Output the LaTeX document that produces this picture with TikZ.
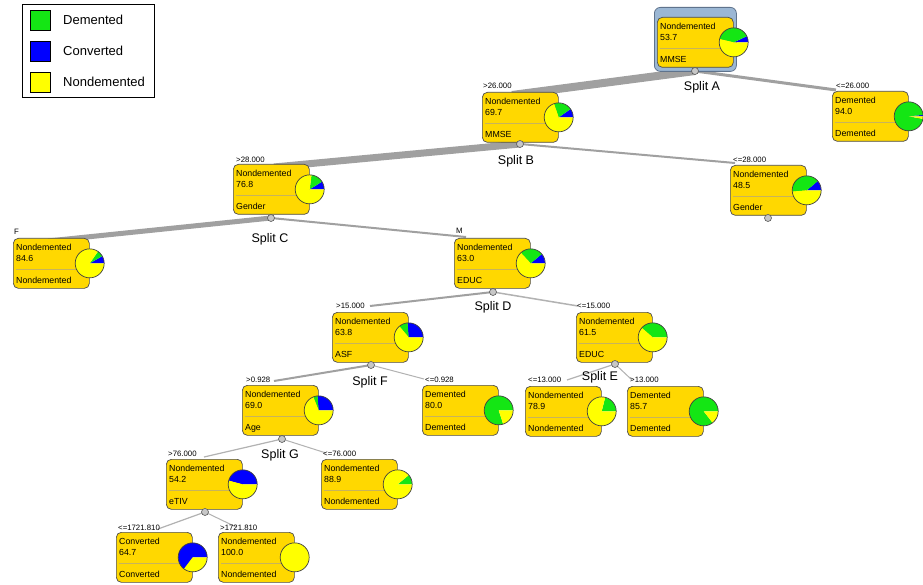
\documentclass[tikz,border=0pt]{standalone}
\usepackage{fontspec}
\setmainfont{Liberation Sans}
\usetikzlibrary{calc,backgrounds}
\definecolor{boxgold}{RGB}{255,216,0}
\definecolor{pgreen}{RGB}{20,230,20}
\definecolor{pblue}{RGB}{0,0,255}
\definecolor{pyellow}{RGB}{255,255,0}
\definecolor{edgegray}{RGB}{160,160,160}
\definecolor{thingray}{RGB}{178,178,178}
\definecolor{sepcol}{RGB}{200,180,90}
\definecolor{rootblue}{RGB}{155,183,212}
\definecolor{rootborder}{RGB}{95,115,140}
\tikzset{
 tbox/.style={draw=black!70, fill=boxgold, rounded corners=5pt, minimum width=76pt, minimum height=50pt, inner sep=0pt, line width=0.7pt},
 btxt/.style={font=\fontsize{8.8}{10}\selectfont, inner sep=0pt, anchor=base west},
 elab/.style={font=\fontsize{7.8}{9}\selectfont, inner sep=0pt, anchor=west},
 slab/.style={font=\fontsize{12.5}{14}\selectfont, inner sep=0pt},
 splitpt/.style={circle, draw=black!65, fill=black!22, minimum size=7pt, inner sep=0pt, line width=0.6pt},
 tedge/.style={draw=edgegray, line width=#1},
 tthin/.style={draw=thingray, line width=#1},
 legsq/.style={draw=black, line width=0.8pt, minimum size=20pt, inner sep=0pt, anchor=north west},
 legtxt/.style={font=\fontsize{13}{15}\selectfont, inner sep=0pt, anchor=west}
}
\newcommand\tbx[7]{%
 \node[tbox, anchor=north west] (#1) at (#2,#3) {};
 \node[btxt] (#1-l1) at ($(#1.north west)+(3,12.5)$) {#4};
 \node[btxt] (#1-l2) at ($(#1.north west)+(3,23.5)$) {#5};
 \draw[sepcol, line width=0.7pt] ($(#1.north west)+(3,31)$) -- ($(#1.north east)+(-12,31)$);
 \node[btxt] (#1-l3) at ($(#1.north west)+(3,45.5)$) {#6};
 \foreach \c/\s/\e in {#7} {\fill[\c] (#1.east) -- ++(\s:14.5pt) arc[start angle=\s, end angle=\e, radius=14.5pt] -- cycle;}
 \draw[black!75, line width=0.7pt] (#1.east) circle[radius=14.5pt];
}
\begin{document}
\begin{tikzpicture}[x=1pt,y=-1pt]
\useasboundingbox (0,0) rectangle (923,585);

% legend
\node[draw=black, line width=0.8pt, minimum width=132pt, minimum height=93pt, inner sep=0pt, anchor=north west] (legend) at (22,4) {};
\node[legsq, fill=pgreen] (lg1) at (30,10) {};
\node[legsq, fill=pblue] (lg2) at (30,41) {};
\node[legsq, fill=pyellow] (lg3) at (30,72) {};
\node[legtxt] (lt1) at (63,20) {Demented};
\node[legtxt] (lt2) at (63,51) {Converted};
\node[legtxt] (lt3) at (63,82) {Nondemented};

% root
\node[draw=rootborder, fill=rootblue, rounded corners=6pt, minimum width=82pt, minimum height=64pt, inner sep=0pt, line width=0.8pt, anchor=north west] (rootouter) at (654,7) {};
\tbx{root}{657}{17}{Nondemented}{53.7}{MMSE}{pblue/0/25, pgreen/25/167, pyellow/167/360}
\tbx{dA}{832}{91}{Demented}{94.0}{Demented}{pblue/0/6, pgreen/6/350, pyellow/350/360}
\tbx{nB}{482}{92}{Nondemented}{69.7}{MMSE}{pblue/0/35, pgreen/35/109, pyellow/109/360}
\tbx{nC}{233}{164}{Nondemented}{76.8}{Gender}{pblue/0/32, pgreen/32/83, pyellow/83/360}
\tbx{nD}{730}{165}{Nondemented}{48.5}{Gender}{pblue/0/40, pgreen/40/185, pyellow/185/360}
\tbx{nF}{13}{238}{Nondemented}{84.6}{Nondemented}{pblue/0/30, pgreen/30/55, pyellow/55/360}
\tbx{nM}{454}{238}{Nondemented}{63.0}{EDUC}{pblue/0/40, pgreen/40/133, pyellow/133/360}
\tbx{nASF}{332}{312}{Nondemented}{63.8}{ASF}{pblue/0/95, pgreen/95/130, pyellow/130/360}
\tbx{nEDUC}{576}{312}{Nondemented}{61.5}{EDUC}{pgreen/0/139, pyellow/139/360}
\tbx{nAge}{242}{385}{Nondemented}{69.0}{Age}{pblue/0/95, pgreen/95/112, pyellow/112/360}
\tbx{dF}{422}{385}{Demented}{80.0}{Demented}{pgreen/0/288, pyellow/288/360}
\tbx{nE1}{525}{386}{Nondemented}{78.9}{Nondemented}{pgreen/0/76, pyellow/76/360}
\tbx{dE2}{627}{386}{Demented}{85.7}{Demented}{pgreen/0/308, pyellow/308/360}
\tbx{nT}{166}{459}{Nondemented}{54.2}{eTIV}{pblue/0/165, pyellow/165/360}
\tbx{nG2}{321}{459}{Nondemented}{88.9}{Nondemented}{pgreen/0/40, pyellow/40/360}
\tbx{cV}{116}{532}{Converted}{64.7}{Converted}{pblue/0/233, pyellow/233/360}
\tbx{nV}{218}{532}{Nondemented}{100.0}{Nondemented}{pyellow/0/360}

% split points
\node[splitpt] (sA) at (695,71) {};
\node[splitpt] (sB) at (520,144) {};
\node[splitpt] (sC) at (271,218) {};
\node[splitpt] (sD2) at (768,218) {};
\node[splitpt] (sD) at (493,292) {};
\node[splitpt] (sF) at (371,365) {};
\node[splitpt] (sE) at (615,364) {};
\node[splitpt] (sG) at (282,439) {};
\node[splitpt] (sT) at (205,512) {};

% connector end points
\coordinate (eB) at (512,95);
\coordinate (eA2) at (836,90);
\coordinate (eC) at (274,167);
\coordinate (eD) at (735,163);
\coordinate (eF) at (48,241);
\coordinate (eM) at (466,237);
\coordinate (eASF) at (370,306);
\coordinate (eEDUC) at (578,306);
\coordinate (eAge) at (274,381);
\coordinate (eDF) at (424,379);
\coordinate (eE1) at (567,380);
\coordinate (eE2) at (632,380);
\coordinate (eT) at (204,457);
\coordinate (eG2) at (326,453);
\coordinate (eCV) at (158,529);
\coordinate (eNV) at (236,527);

\begin{pgfonlayer}{background}
\fill[white] (0,0) rectangle (923,585);
\draw[tedge=8pt] (sA.center) -- (eB);
\draw[tedge=3pt] (sA.center) -- (eA2);
\draw[tedge=7pt] (sB.center) -- (eC);
\draw[tedge=2pt] (sB.center) -- (eD);
\draw[tedge=5pt] (sC.center) -- (eF);
\draw[tedge=2pt] (sC.center) -- (eM);
\draw[tedge=2pt] (sD.center) -- (eASF);
\draw[tthin=1.5pt] (sD.center) -- (eEDUC);
\draw[tedge=2pt] (sF.center) -- (eAge);
\draw[tthin=1pt] (sF.center) -- (eDF);
\draw[tthin=1.2pt] (sE.center) -- (eE1);
\draw[tthin=1pt] (sE.center) -- (eE2);
\draw[tthin=1.2pt] (sG.center) -- (eT);
\draw[tthin=1pt] (sG.center) -- (eG2);
\draw[tthin=1.2pt] (sT.center) -- (eCV);
\draw[tthin=1pt] (sT.center) -- (eNV);
\end{pgfonlayer}

% split labels
\node[slab] (lA) at (702,87) {Split A};
\node[slab] (lB) at (516,161) {Split B};
\node[slab] (lC) at (270,239) {Split C};
\node[slab] (lD) at (493,307) {Split D};
\node[slab] (lF) at (370,382) {Split F};
\node[slab] (lE) at (600,377) {Split E};
\node[slab] (lG) at (280,455) {Split G};

% edge labels
\node[elab] (xA2) at (836,86) {<=26.000};
\node[elab] (xB) at (483,86) {>26.000};
\node[elab] (xC) at (236,160) {>28.000};
\node[elab] (xD) at (733,160) {<=28.000};
\node[elab] (xF) at (14,232) {F};
\node[elab] (xM) at (456,231) {M};
\node[elab] (xASF) at (336,306) {>15.000};
\node[elab] (xEDUC) at (577,306) {<=15.000};
\node[elab] (xAge) at (246,380) {>0.928};
\node[elab] (xDF) at (425,380) {<=0.928};
\node[elab] (xE1) at (528,380) {<=13.000};
\node[elab] (xE2) at (630,380) {>13.000};
\node[elab] (xT) at (168,454) {>76.000};
\node[elab] (xG2) at (323,454) {<=76.000};
\node[elab] (xCV) at (118,528) {<=1721.810};
\node[elab] (xNV) at (220,528) {>1721.810};
\end{tikzpicture}
\end{document}
